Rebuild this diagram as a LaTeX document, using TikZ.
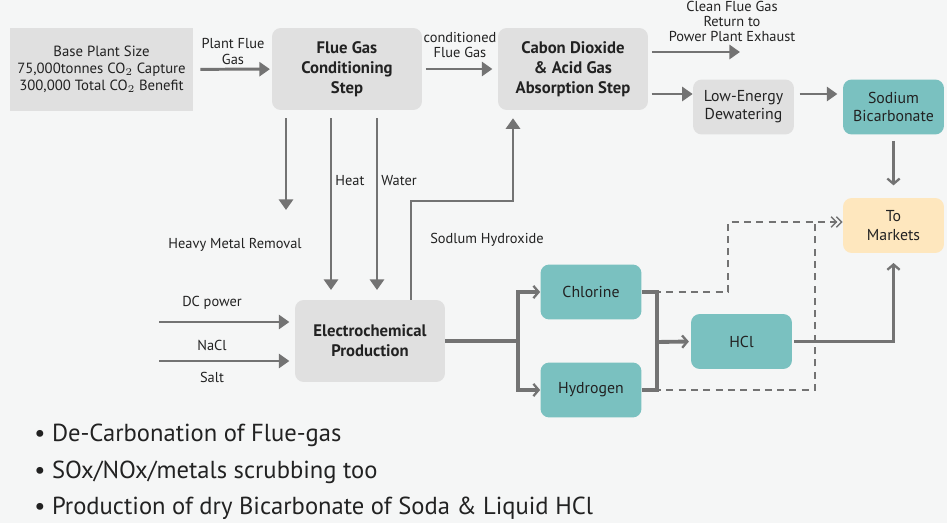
\documentclass[tikz,border=0pt]{standalone}
\usepackage{fontspec}
\setmainfont{PT Sans}
\usetikzlibrary{positioning,arrows.meta}

\definecolor{bgcol}{RGB}{245,246,246}
\definecolor{boxgray}{RGB}{224,224,224}
\definecolor{tealbox}{RGB}{122,193,192}
\definecolor{peach}{RGB}{254,231,190}
\definecolor{linegray}{RGB}{115,115,115}
\definecolor{txt}{RGB}{34,34,34}

\begin{document}
\begin{tikzpicture}[x=0.02cm, y=-0.02cm,
		every node/.style={text=txt, align=center, inner sep=0pt},
		stepbox/.style={fill=boxgray, rounded corners=5pt, minimum width=3cm, minimum height=1.64cm, font=\fontsize{9.5}{11.4}\selectfont\bfseries},
		smallbox/.style={rounded corners=5pt, minimum width=2.02cm, minimum height=1.1cm, font=\fontsize{9}{10.4}\selectfont},
		lbl/.style={font=\fontsize{8.2}{8.8}\selectfont},
		bullet/.style={anchor=west, font=\fontsize{14}{16}\selectfont},
		flow/.style={draw=linegray, line width=1.7pt, -{Triangle[length=6pt,width=8pt]}},
		branch/.style={draw=linegray, line width=2.2pt, -{Straight Barb[length=3pt,width=7pt,line width=1.3pt]}},
		dashflow/.style={draw=linegray, line width=0.8pt, dash pattern=on 4pt off 3pt, -{Straight Barb[length=3pt,width=6pt]}}]
	\fill [bgcol] (0,0) rectangle (947,523);
	\useasboundingbox (0,0) rectangle (947,523);

	\node (base) [fill=boxgray, minimum width=3.66cm, minimum height=1.66cm, font=\fontsize{8.4}{9.7}\selectfont] at (101.5,69.5) {Base Plant Size\\75,000tonnes CO$_2$ Capture\\300,000 Total CO$_2$ Benefit};
	\node (flue) [stepbox] at (347,69) {Flue Gas\\Conditioning\\Step};
	\node (co2) [stepbox] at (573,69) {Cabon Dioxide\\\& Acid Gas\\Absorption Step};
	\node (dewater) [smallbox, fill=boxgray] at (743.5,107) {Low-Energy\\Dewatering};
	\node (sodium) [smallbox, fill=tealbox] at (893.5,107) {Sodium\\Bicarbonate};
	\node (markets) [smallbox, fill=peach] at (893.5,225.5) {To\\Markets};
	\node (electro) [stepbox] at (370,341) {Electrochemical\\Production};
	\node (chlorine) [smallbox, fill=tealbox] at (591,292) {Chlorine};
	\node (hydrogen) [smallbox, fill=tealbox] at (591,390) {Hydrogen};
	\node (hcl) [smallbox, fill=tealbox] at (741.5,341.5) {HCl};

	\node (plantlbl) [lbl] at (233,51.5) {Plant Flue\\Gas};
	\node (condlbl) [lbl] at (460,45) {conditioned\\Flue Gas};
	\node (cleanlbl) [lbl] at (732,21.5) {Clean Flue Gas\\Return to\\Power Plant Exhaust};
	\node (heatlbl) [lbl, anchor=west] at (335,181) {Heat};
	\node (waterlbl) [lbl, anchor=west] at (381,181) {Water};
	\node (heavy) [lbl] at (235,245) {Heavy Metal Removal};
	\node (naohlbl) [lbl] at (487,240) {Sodlum Hydroxide};
	\node (dclbl) [lbl] at (212,303) {DC power};
	\node (nacllbl) [lbl] at (212,345) {NaCl};
	\node (saltlbl) [lbl] at (212,377) {Salt};

	\node (b1) [bullet] at (34,435) {\textbullet\ De-Carbonation of Flue-gas};
	\node (b2) [bullet] at (34,472) {\textbullet\ SOx/NOx/metals scrubbing too};
	\node (b3) [bullet] at (34,508) {\textbullet\ Production of dry Bicarbonate of Soda \& Liquid HCl};

	\coordinate (cleanend) at (740,52);
	\coordinate (co2low) at (648,94);
	\coordinate (hmtip) at (286,210);
	\coordinate (heatx) at (331,0);
	\coordinate (waterx) at (377,0);
	\coordinate (naoh) at (411,201);
	\coordinate (naohup) at (513,201);
	\coordinate (dcin) at (159,322);
	\coordinate (naclin) at (159,361);
	\coordinate (split) at (518,341);
	\coordinate (join) at (657,342);
	\coordinate (dashc) at (728,222);
	\coordinate (dashh) at (815,222);

	\draw [flow, shorten <=4pt, shorten >=1pt] (base) -- (flue);
	\draw [flow, shorten <=2pt, shorten >=3pt] (flue) -- (co2);
	\draw [flow, shorten <=2pt] (co2.east |- cleanend) -- (cleanend);
	\draw [flow, shorten <=2pt] (co2low) -- (co2low -| dewater.west);
	\draw [flow, shorten <=3pt, shorten >=3pt] (co2low -| dewater.east) -- (co2low -| sodium.west);
	\draw [branch, shorten <=3.5pt, shorten >=7pt] (sodium) -- (markets);

	\draw [flow, shorten <=4.5pt] (flue.south -| hmtip) -- (hmtip);
	\draw [flow, shorten <=4.5pt, shorten >=5.5pt] (flue.south -| heatx) -- (electro.north -| heatx);
	\draw [flow, shorten <=4.5pt, shorten >=5.5pt] (flue.south -| waterx) -- (electro.north -| waterx);
	\draw [flow, shorten >=4.5pt] (electro.north -| naoh) -- (naoh) -- (naohup) -- (co2.south -| naohup);

	\draw [flow, shorten >=3pt] (dcin) -- (dcin -| electro.west);
	\draw [flow, shorten >=3pt] (naclin) -- (naclin -| electro.west);

	\draw [dashflow] (chlorine.east) -| (dashc) -- (dashc -| markets.west);
	\draw [dashflow, shorten >=3pt] (hydrogen.east) -| (dashh) -- (dashh -| markets.west);

	\draw [draw=linegray, line width=2.2pt] (electro.east) -- (split);
	\draw [branch] (split) |- (chlorine.west);
	\draw [branch] (split) |- (hydrogen.west);
	\draw [draw=linegray, line width=2.2pt] (chlorine.east) -| (join);
	\draw [draw=linegray, line width=2.2pt] (hydrogen.east) -| (join);
	\draw [branch, shorten >=1pt] (join) -- (hcl.west);
	\draw [branch, shorten <=1pt, shorten >=5.5pt] (hcl.east) -| (markets.south);
\end{tikzpicture}
\end{document}
